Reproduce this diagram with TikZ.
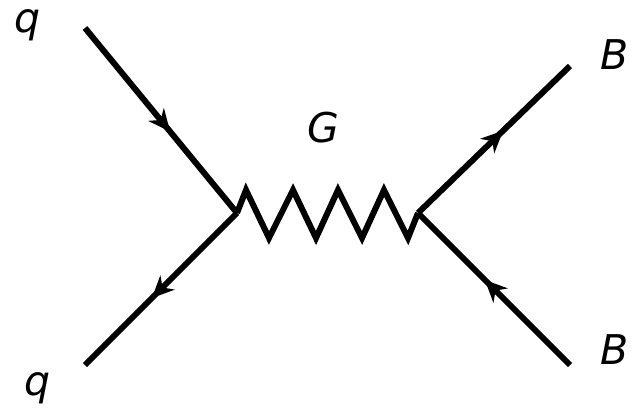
\documentclass[tikz,border=0pt]{standalone}
\usepackage{fontspec}
\setmainfont{DejaVu Sans}
\usetikzlibrary{arrows.meta,decorations.markings}
\tikzset{
  fermion/.style={line width=6pt,
    postaction={decorate,decoration={markings,
      mark=at position 0.56 with {\arrow{Stealth[length=22pt,width=20pt,inset=7pt]}}}}},
  boson/.style={line width=6pt,line join=miter},
  lbl/.style={font=\fontsize{41}{48}\selectfont\itshape,inner sep=0pt}
}
\begin{document}
\begin{tikzpicture}[x=1pt,y=-1pt]
\useasboundingbox (0,0) rectangle (637,412);
\coordinate (q1) at (85,28);
\coordinate (q2) at (85,365);
\coordinate (vL) at (237,213);
\coordinate (vR) at (418,213);
\coordinate (b1) at (570,66);
\coordinate (b2) at (570,365);
\draw[fermion] (q1) -- (vL);
\draw[fermion] (vL) -- (q2);
\draw[fermion] (vR) -- (b1);
\draw[fermion] (b2) -- (vR);
\draw[boson] (vL) -- (246,190) -- (269,238) -- (293,190) -- (316,238) -- (338,190) -- (362,238) -- (384,190) -- (408,238) -- (vR);
\node[lbl] (lq1) at (28,25) {q};
\node[lbl] (lq2) at (38,388) {q};
\node[lbl] (lG) at (323,128) {G};
\node[lbl] (lB1) at (615,55) {B};
\node[lbl] (lB2) at (615,350) {B};
\end{tikzpicture}
\end{document}
